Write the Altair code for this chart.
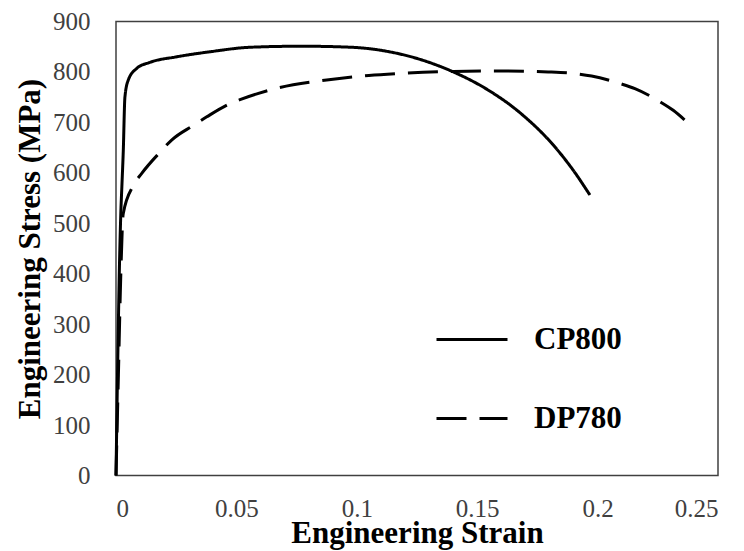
import altair as alt
import pandas as pd

cp_strain = [0, 0.0008, 0.0015, 0.002, 0.0025, 0.003, 0.0037, 0.0051, 0.0086, 0.0141, 0.0252,
             0.039, 0.056, 0.077, 0.0975, 0.1135, 0.1262, 0.1401, 0.1539, 0.1678, 0.1816,
             0.1899, 0.1968]
cp_stress = [0, 250, 430, 520, 580, 640, 750, 784, 807, 819, 830,
             840, 849, 851, 849, 840, 825, 800, 766, 719, 655,
             605, 556]

dp_strain = [0, 0.001, 0.002, 0.003, 0.0072, 0.0107, 0.0183, 0.0231, 0.0321, 0.0377, 0.0473,
             0.0515, 0.068, 0.0875, 0.105, 0.118, 0.14, 0.16, 0.1795, 0.192, 0.1975,
             0.2093, 0.2155, 0.2259, 0.2314, 0.2377]
dp_stress = [0, 200, 400, 519, 575, 599, 641, 665, 694, 711, 737,
             745, 769, 784, 793, 797, 801, 802, 800, 796, 792,
             777, 767, 741, 724, 698]

series = ["CP800", "DP780"]
x_ticks = [0, 0.05, 0.1, 0.15, 0.2, 0.25]
y_ticks = [0, 100, 200, 300, 400, 500, 600, 700, 800, 900]

rows = []
for i, (s, v) in enumerate(zip(cp_strain, cp_stress)):
    rows.append({"series": series[0], "strain": s, "stress": v, "order": i})
for i, (s, v) in enumerate(zip(dp_strain, dp_stress)):
    rows.append({"series": series[1], "strain": s, "stress": v, "order": i})
df = pd.DataFrame(rows)

FONT = "Liberation Serif"

chart = alt.Chart(df).mark_line(strokeWidth=3, color="black", interpolate="monotone").encode(
    x=alt.X("strain:Q", scale=alt.Scale(domain=[0, 0.25], nice=False),
            axis=alt.Axis(title="Engineering Strain", values=x_ticks,
                          labelExpr="datum.value == 0 ? '0' : format(datum.value, '.2~f')",
                          grid=False, ticks=False, domain=False, labelPadding=21,
                          titlePadding=-3)),
    y=alt.Y("stress:Q", scale=alt.Scale(domain=[0, 900], nice=False),
            axis=alt.Axis(title="Engineering Stress (MPa)", values=y_ticks,
                          grid=False, ticks=False, domain=False, labelPadding=26,
                          titlePadding=6)),
    strokeDash=alt.StrokeDash("series:N",
                              scale=alt.Scale(domain=series, range=[[1, 0], [30, 13]]),
                              legend=alt.Legend(orient="none", legendX=319, legendY=281,
                                                title=None, symbolType="stroke",
                                                symbolSize=5041, symbolStrokeWidth=3,
                                                symbolStrokeColor="black",
                                                labelFont=FONT, labelFontSize=31,
                                                labelFontWeight="bold", labelColor="black",
                                                labelOffset=25, rowPadding=27, padding=0)),
    order="order:Q",
).properties(
    width=602, height=454,
    autosize=alt.AutoSizeParams(type="none"),
    padding={"left": 108, "top": 13.5, "right": 18, "bottom": 75.5},
).configure_view(
    stroke="#404040", strokeWidth=1.5
).configure_axis(
    labelFont=FONT, labelFontSize=25, labelColor="#404040",
    titleFont=FONT, titleFontSize=31, titleFontWeight="bold", titleColor="black",
)

chart.save("out.html", embed_options={"renderer": "svg", "actions": False})
